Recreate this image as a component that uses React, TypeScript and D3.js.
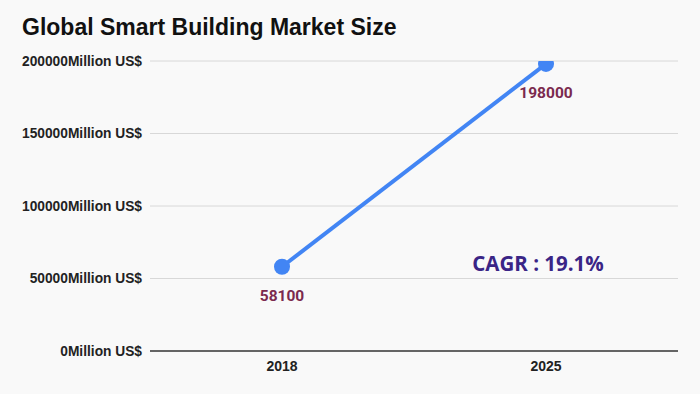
import React, { useRef, useEffect } from "react";
import * as d3 from "d3";

const years: string[] = ["2018", "2025"];
const marketSize: number[] = [58100, 198000];
const yTicks: number[] = [0, 50000, 100000, 150000, 200000];
const title = "Global Smart Building Market Size";
const cagrLabel = "CAGR : 19.1%";

const width = 700;
const height = 394;
const margin = { top: 61, right: 22, bottom: 43, left: 150 };

const App: React.FC = () => {
  const ref = useRef<SVGSVGElement>(null);

  useEffect(() => {
    if (!ref.current) return;
    const svg = d3.select(ref.current);
    svg.selectAll("*").remove();

    svg
      .append("rect")
      .attr("width", width)
      .attr("height", height)
      .attr("fill", "#f9f9f9");

    const x = d3
      .scalePoint<string>()
      .domain(years)
      .range([margin.left, width - margin.right])
      .padding(0.5);

    const y = d3
      .scaleLinear()
      .domain([0, 200000])
      .range([height - margin.bottom, margin.top]);

    svg
      .append("text")
      .attr("x", 22)
      .attr("y", 35)
      .attr("font-family", "Liberation Sans, Arial, sans-serif")
      .attr("font-weight", "bold")
      .attr("font-size", 23)
      .attr("fill", "#111")
      .text(title);

    // grid
    const grid = svg.append("g");
    grid
      .selectAll("line")
      .data(yTicks)
      .enter()
      .append("line")
      .attr("x1", margin.left)
      .attr("x2", width - margin.right)
      .attr("y1", (d) => y(d))
      .attr("y2", (d) => y(d))
      .attr("stroke", (d) => (d === 0 ? "#333" : "#d8d8d8"))
      .attr("stroke-width", (d) => (d === 0 ? 1.5 : 1));

    grid
      .selectAll("text")
      .data(yTicks)
      .enter()
      .append("text")
      .attr("x", margin.left - 8)
      .attr("y", (d) => y(d))
      .attr("dy", "0.35em")
      .attr("text-anchor", "end")
      .attr("font-family", "Liberation Sans, Arial, sans-serif")
      .attr("font-weight", "bold")
      .attr("font-size", 13.75)
      .attr("fill", "#222")
      .text((d) => d + "Million US$");

    // x labels
    svg
      .append("g")
      .selectAll("text")
      .data(years)
      .enter()
      .append("text")
      .attr("x", (d) => x(d) as number)
      .attr("y", 371)
      .attr("text-anchor", "middle")
      .attr("font-family", "Liberation Sans, Arial, sans-serif")
      .attr("font-weight", "bold")
      .attr("font-size", 14)
      .attr("fill", "#222")
      .text((d) => d);

    svg
      .append("clipPath")
      .attr("id", "plot-clip")
      .append("rect")
      .attr("x", margin.left)
      .attr("y", margin.top)
      .attr("width", width - margin.left - margin.right)
      .attr("height", height - margin.top - margin.bottom);

    const plot = svg.append("g").attr("clip-path", "url(#plot-clip)");

    const line = d3
      .line<number>()
      .x((_d, i) => x(years[i]) as number)
      .y((d) => y(d));

    plot
      .append("path")
      .datum(marketSize)
      .attr("d", line)
      .attr("fill", "none")
      .attr("stroke", "#4285f4")
      .attr("stroke-width", 4);

    plot
      .selectAll("circle")
      .data(marketSize)
      .enter()
      .append("circle")
      .attr("cx", (_d, i) => x(years[i]) as number)
      .attr("cy", (d) => y(d))
      .attr("r", 8)
      .attr("fill", "#4285f4");

    svg
      .append("g")
      .selectAll("text")
      .data(marketSize)
      .enter()
      .append("text")
      .attr("x", (_d, i) => x(years[i]) as number)
      .attr("y", (d) => y(d) + 34)
      .attr("text-anchor", "middle")
      .attr("font-family", "Roboto, sans-serif")
      .attr("font-weight", "bold")
      .attr("font-size", 15.5)
      .attr("fill", "#7b2a4e")
      .text((d) => d);

    svg
      .append("text")
      .attr("x", 538)
      .attr("y", 271)
      .attr("text-anchor", "middle")
      .attr("font-family", "Open Sans, sans-serif")
      .attr("font-weight", "bold")
      .attr("font-size", 20.5)
      .attr("fill", "#3a2586")
      .text(cagrLabel);
  }, []);

  return <svg ref={ref} width={width} height={height} style={{ display: "block", position: "absolute", left: 0, top: 0 }} />;
};

export default App;
